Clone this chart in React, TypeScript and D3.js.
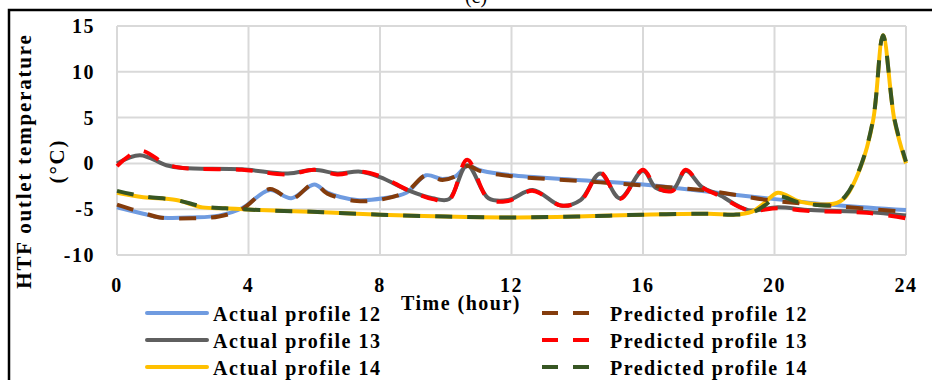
import React from "react";
import * as d3 from "d3";

// Hour stamps and temperatures (°C) for each profile
const hours12 = [0, 0.8, 1.3, 2.3, 3.1, 3.8, 4.65, 5.3, 6.0, 6.4, 7.3, 8.1, 8.8, 9.4, 9.9, 10.3, 10.65, 11.1, 12, 14, 16, 18, 20, 22, 24];
const actual12 = [-4.8, -5.5, -5.9, -5.9, -5.7, -4.9, -2.9, -3.8, -2.3, -3.2, -4.0, -3.8, -3.2, -1.3, -1.7, -1.4, -0.3, -0.8, -1.3, -1.8, -2.3, -3.1, -3.9, -4.6, -5.1];
const predicted12 = [-4.5, -5.4, -5.9, -6.0, -5.8, -5.0, -2.8, -3.9, -2.2, -3.3, -4.1, -3.9, -3.1, -1.3, -1.8, -1.4, -0.3, -0.9, -1.4, -1.9, -2.4, -3.0, -4.1, -4.7, -5.3];

const hours13 = [0, 0.7, 1.5, 2.0, 3.8, 5.2, 6.0, 6.7, 7.4, 8.0, 8.9, 9.6, 10.1, 10.65, 11.3, 11.9, 12.65, 13.5, 14.1, 14.7, 15.3, 16.0, 16.4, 16.9, 17.3, 17.8, 18.3, 19.2, 20.1, 21.1, 22.8, 24];
const actual13 = [0, 0.9, -0.2, -0.5, -0.65, -1.1, -0.7, -1.1, -0.9, -1.5, -3.0, -3.8, -3.9, -0.2, -3.8, -4.0, -2.9, -4.6, -4.0, -1.1, -3.8, -0.8, -2.7, -2.9, -0.8, -2.6, -3.4, -5.1, -4.8, -5.1, -5.3, -5.7];
const predicted13 = [-0.3, 1.4, -0.1, -0.5, -0.7, -1.2, -0.7, -1.2, -0.9, -1.4, -3.0, -3.9, -4.0, 0.4, -3.9, -4.1, -3.0, -4.6, -4.1, -1.0, -3.9, -0.7, -2.6, -3.0, -0.7, -2.6, -3.5, -5.1, -4.9, -5.2, -5.4, -6.0];

const hours14 = [0, 0.8, 1.8, 2.6, 3.3, 4.35, 6.1, 8, 10, 12, 14, 16, 18, 18.75, 19.3, 19.7, 20.1, 20.8, 21.8, 22.15, 22.6, 23.0, 23.3, 23.65, 24];
const actual14 = [-3.2, -3.7, -4.0, -4.8, -4.9, -5.1, -5.3, -5.6, -5.8, -5.9, -5.8, -5.6, -5.5, -5.6, -5.3, -4.3, -3.2, -4.2, -4.4, -3.7, -0.6, 4.7, 14.0, 4.7, 0];
const predicted14 = [-3.0, -3.6, -4.0, -4.7, -4.9, -5.1, -5.3, -5.6, -5.8, -5.9, -5.8, -5.6, -5.5, -5.6, -5.4, -4.6, -3.6, -4.3, -4.5, -3.6, -0.5, 4.8, 14.0, 4.8, 0.2];

const xTicks = [0, 4, 8, 12, 16, 20, 24];
const yTicks = [-10, -5, 0, 5, 10, 15];

const seriesNames = [
  "Actual profile 12",
  "Actual profile 13",
  "Actual profile 14",
  "Predicted profile 12",
  "Predicted profile 13",
  "Predicted profile 14",
];

const FONT = "'Liberation Serif', 'Times New Roman', serif";

export default function App() {
  const width = 932;
  const height = 380;
  const x = d3.scaleLinear().domain([0, 24]).range([117, 906]);
  const y = d3.scaleLinear().domain([-10, 15]).range([255, 26]);

  const line = d3
    .line<[number, number]>()
    .x((d) => x(d[0]))
    .y((d) => y(d[1]))
    .curve(d3.curveCatmullRom.alpha(0.5));

  const zip = (h: number[], v: number[]) => h.map((t, i) => [t, v[i]] as [number, number]);

  const series = [
    { name: seriesNames[0], pts: zip(hours12, actual12), color: "#6f9be0", dash: "" },
    { name: seriesNames[1], pts: zip(hours13, actual13), color: "#5f5f5f", dash: "" },
    { name: seriesNames[2], pts: zip(hours14, actual14), color: "#ffc000", dash: "" },
    { name: seriesNames[3], pts: zip(hours12, predicted12), color: "#843c0c", dash: "17,15" },
    { name: seriesNames[4], pts: zip(hours13, predicted13), color: "#ff0000", dash: "17,15" },
    { name: seriesNames[5], pts: zip(hours14, predicted14), color: "#375623", dash: "17,15" },
  ];

  const textStyle = {
    fontFamily: FONT,
    fontWeight: 700,
    fontSize: 20,
    letterSpacing: 1.5,
    fill: "#000",
  } as React.CSSProperties;

  const legendRows = [313, 340, 367];

  return (
    <svg
      width={width}
      height={height}
      style={{ position: "absolute", left: 0, top: 0, background: "#fff" }}
    >
      <rect x={0} y={0} width={width} height={height} fill="#fff" />
      {/* figure frame */}
      <rect x={9} y={10} width={960} height={400} fill="none" stroke="#000" strokeWidth={2.5} />
      <text x={476} y={3} textAnchor="middle" style={{ fontFamily: FONT, fontSize: 20, fill: "#000" }}>
        (c)
      </text>

      {/* gridlines */}
      {yTicks.map((t) => (
        <line key={"h" + t} x1={x(0)} x2={x(24)} y1={y(t)} y2={y(t)} stroke="#d9d9d9" strokeWidth={2} />
      ))}
      {xTicks.map((t) => (
        <line key={"v" + t} x1={x(t)} x2={x(t)} y1={y(15)} y2={y(-10)} stroke="#d9d9d9" strokeWidth={2} />
      ))}

      {/* series */}
      {series.map((s) => (
        <path
          key={s.name}
          d={line(s.pts) ?? ""}
          fill="none"
          stroke={s.color}
          strokeWidth={4}
          strokeDasharray={s.dash || undefined}
          strokeLinejoin="round"
        />
      ))}

      {/* tick labels */}
      {yTicks.map((t) => (
        <text key={"yl" + t} x={95} y={y(t)} dy="0.35em" textAnchor="end" style={textStyle}>
          {t}
        </text>
      ))}
      {xTicks.map((t) => (
        <text key={"xl" + t} x={x(t)} y={292} textAnchor="middle" style={textStyle}>
          {t}
        </text>
      ))}

      {/* axis titles */}
      <text x={461} y={310} textAnchor="middle" style={textStyle}>
        Time (hour)
      </text>
      <text transform="translate(31,161) rotate(-90)" textAnchor="middle" style={{ ...textStyle, fontSize: 21, letterSpacing: 1.8 }}>
        HTF outlet temperature
      </text>
      <text transform="translate(64,161) rotate(-90)" textAnchor="middle" style={{ ...textStyle, fontSize: 21, letterSpacing: 1.8 }}>
        (°C)
      </text>

      {/* legend */}
      {series.map((s, i) => {
        const col = i < 3 ? 0 : 1;
        const row = i % 3;
        const ly = legendRows[row];
        const x1 = col === 0 ? 147 : 542;
        const x2 = col === 0 ? 207 : 590;
        const tx = col === 0 ? 213 : 610;
        return (
          <g key={"lg" + s.name}>
            <line
              x1={x1}
              x2={x2}
              y1={ly}
              y2={ly}
              stroke={s.color}
              strokeWidth={4}
              strokeDasharray={s.dash ? "16,15" : undefined}
              strokeLinecap={s.dash ? "butt" : "round"}
            />
            <text x={tx} y={ly + 8} style={textStyle}>
              {s.name}
            </text>
          </g>
        );
      })}
    </svg>
  );
}
